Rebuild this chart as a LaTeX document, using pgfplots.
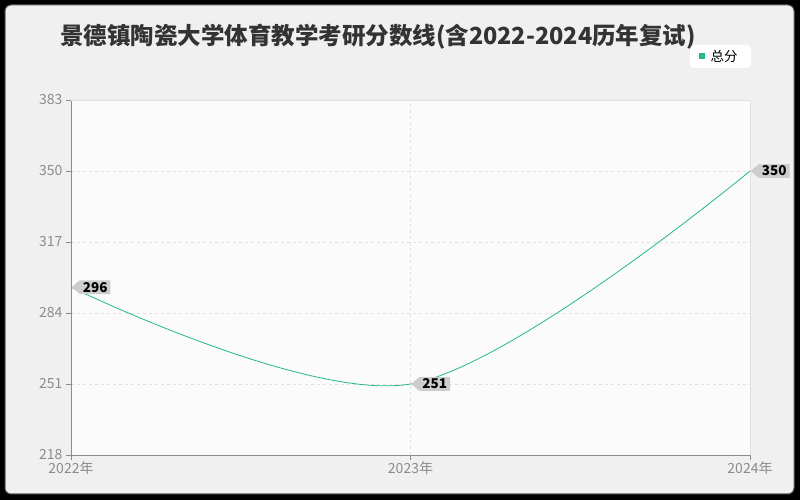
\documentclass[border=0pt]{standalone}
\usepackage{pgfplots}
\pgfplotsset{compat=1.18}
\usetikzlibrary{shapes.symbols}
\usepackage{fontspec}
\setmainfont{Noto Sans CJK SC}
\definecolor{linec}{RGB}{38,185,135}
\definecolor{tickc}{RGB}{140,140,140}
\definecolor{bgc}{RGB}{240,240,240}
\definecolor{gridc}{RGB}{225,225,225}
\definecolor{lblc}{RGB}{205,205,205}
\begin{document}
\begin{tikzpicture}
% frame
\fill[black] (0pt,0pt) rectangle (800pt,500pt);
\fill[bgc, draw=gray!70!black, line width=1pt, rounded corners=6pt] (5pt,6pt) rectangle (794pt,495pt);
\node[text=black!80, font=\fontsize{23.5}{26}\selectfont\bfseries] at (378pt,463pt) {景德镇陶瓷大学体育教学考研分数线(含2022-2024历年复试)};
% legend
\fill[white, rounded corners=4pt] (690pt,432pt) rectangle (751pt,455pt);
\fill[linec] (699pt,441pt) rectangle (705pt,447pt);
\node[anchor=west, font=\fontsize{13.5}{15}\selectfont] at (707pt,444pt) {总分};
\begin{axis}[
  at={(71pt,45pt)}, anchor=south west,
  scale only axis, width=679pt, height=355pt,
  xmin=2022, xmax=2024, ymin=218, ymax=383,
  xtick={2022,2023,2024},
  xticklabels={2022年,2023年,2024年},
  ytick={218,251,284,317,350,383},
  axis lines=left, axis line style={tickc, line width=0.8pt, -},
  tick style={tickc, line width=0.8pt},
  tick align=outside, major tick length=5pt,
  ticklabel style={text=tickc, font=\fontsize{14}{16}\selectfont},
  /pgf/number format/assume math mode=true,
  xticklabel style={yshift=2pt},
  grid=major, grid style={gridc, dashed, line width=0.6pt},
  axis background/.style={fill=gray!3},
  clip=false,
  nodes near coords,
  nodes near coords style={signal, signal to=west, signal pointer angle=80, fill=lblc,
    anchor=west, inner ysep=1.8pt, inner xsep=3pt, text=black,
    font=\fontsize{13.5}{14}\selectfont\bfseries},
]
\draw[gridc, line width=0.6pt] (axis cs:2022,383) -- (axis cs:2024,383) -- (axis cs:2024,218);
\addplot[linec, line width=0.8pt, smooth, tension=0.55] coordinates {
  (2022,296) (2023,251) (2024,350)
};
\end{axis}
\end{tikzpicture}
\end{document}
